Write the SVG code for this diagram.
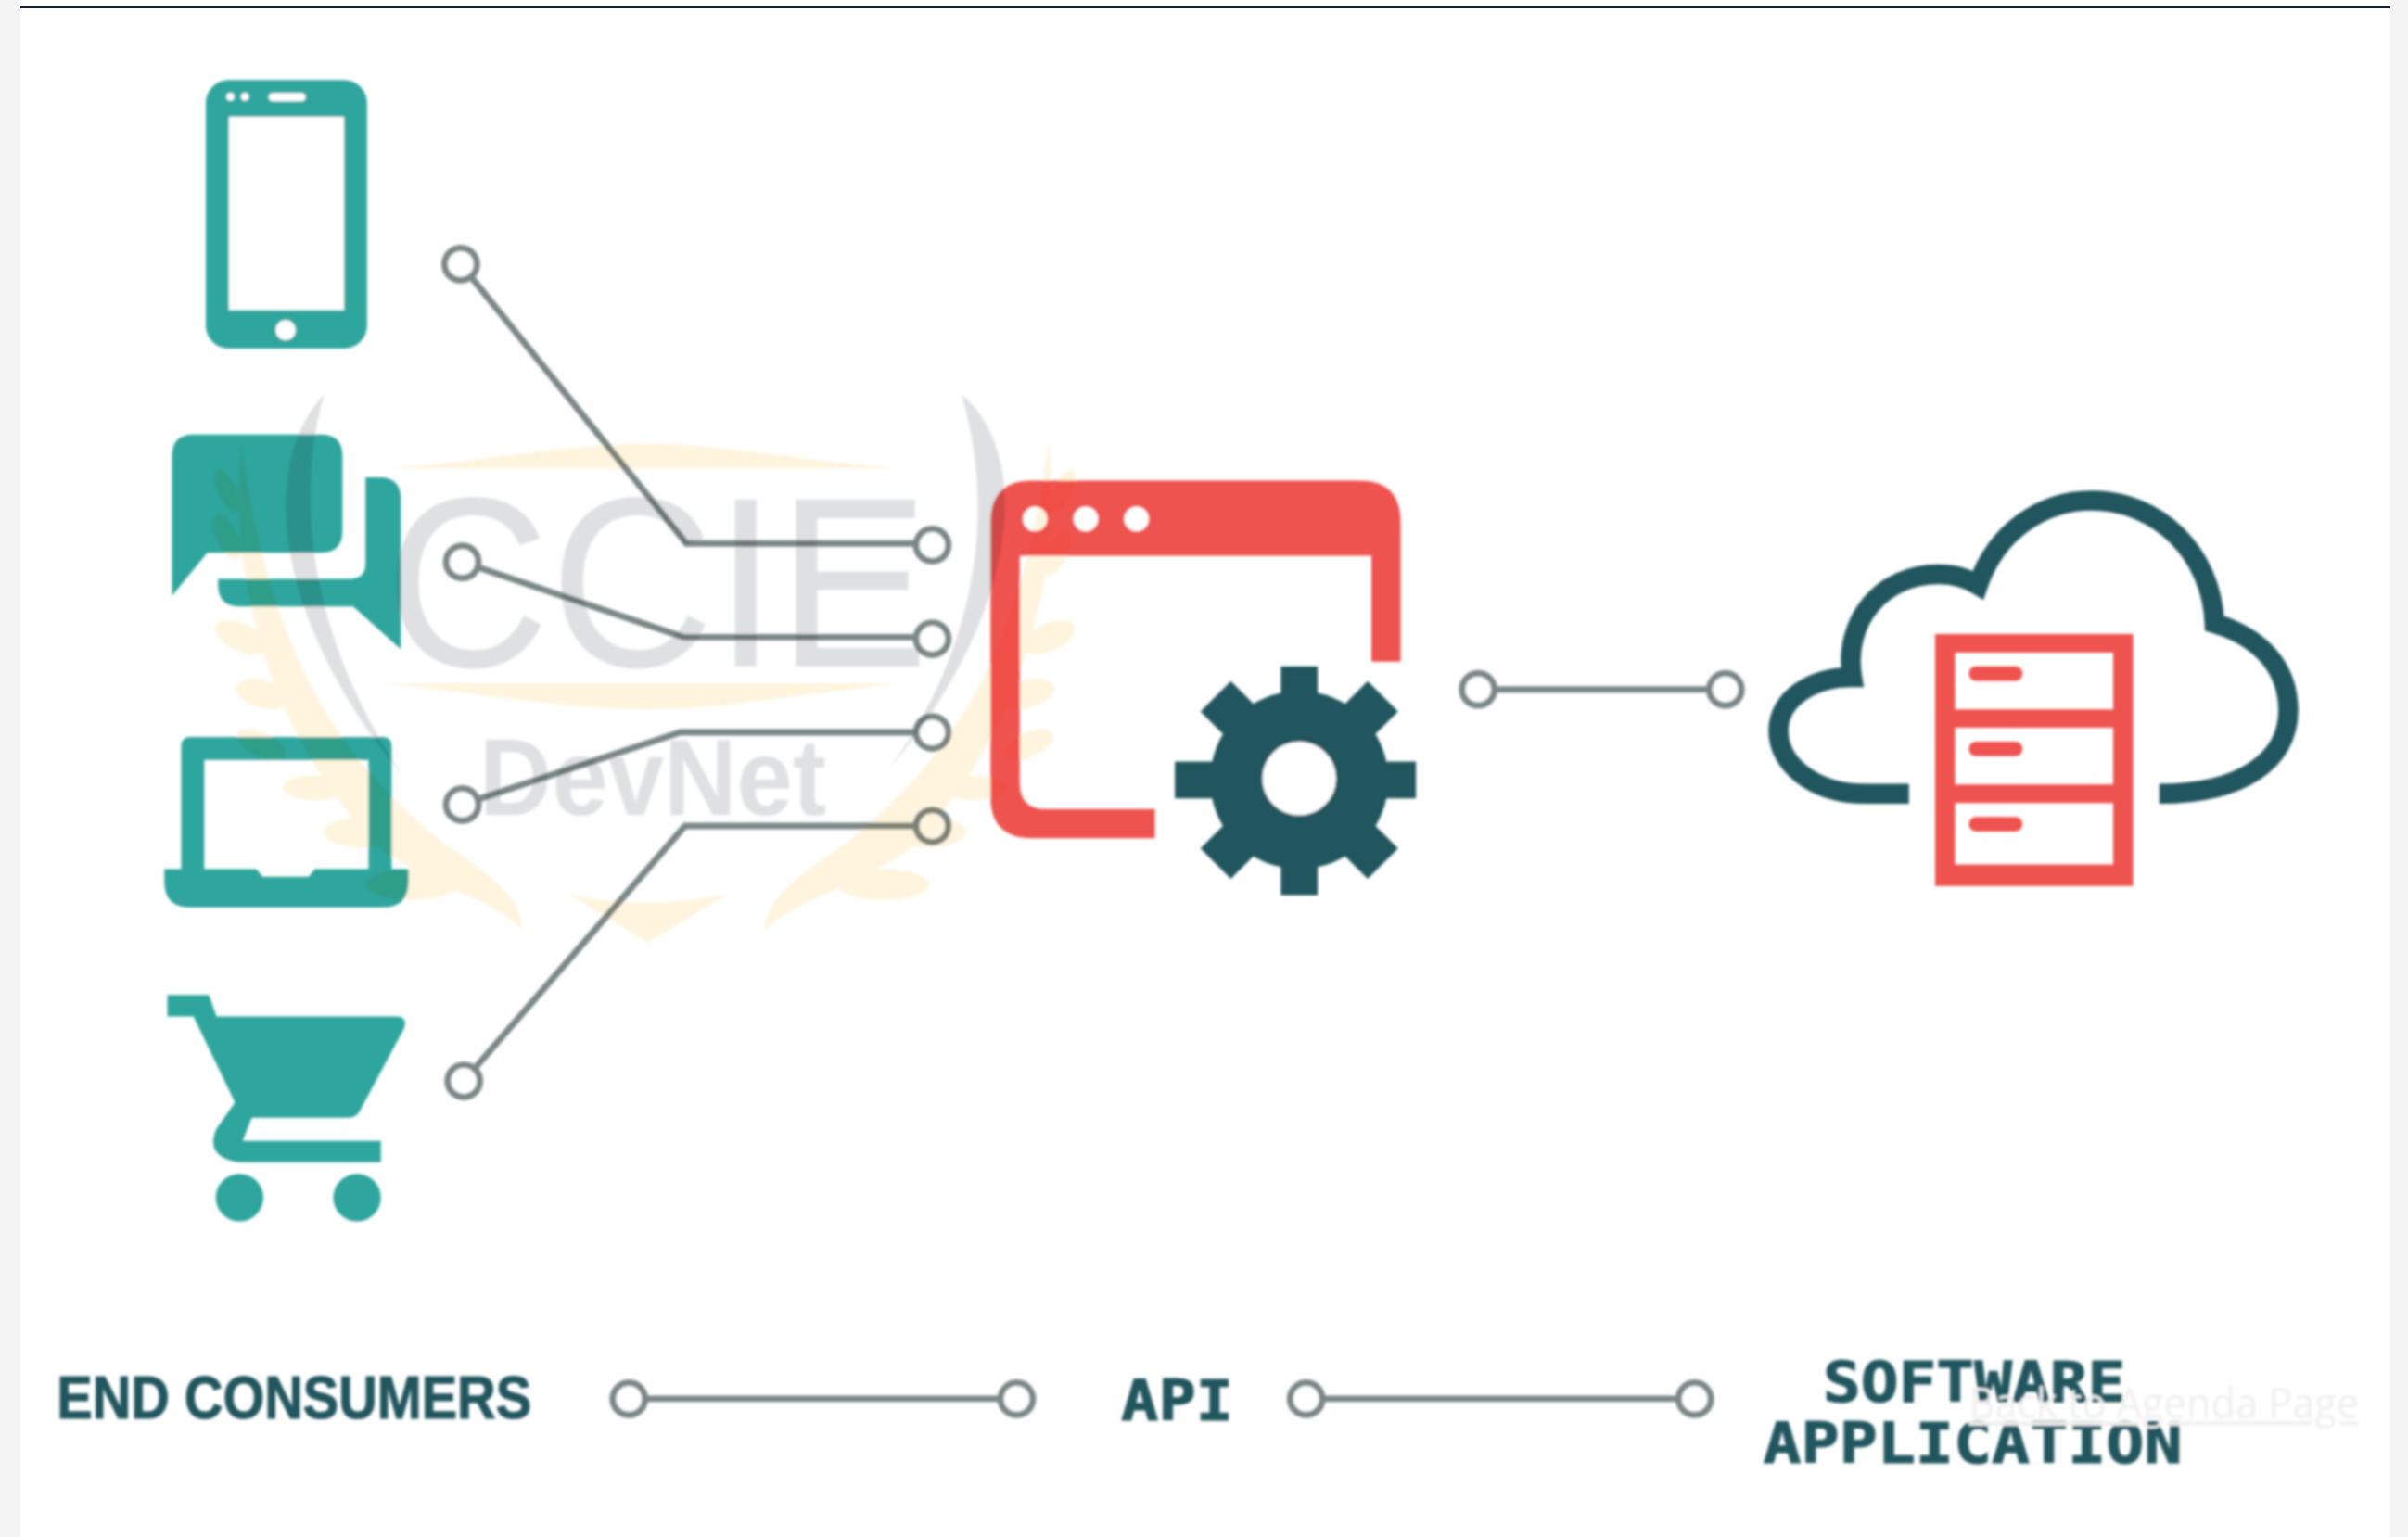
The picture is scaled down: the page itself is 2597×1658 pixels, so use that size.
<svg xmlns="http://www.w3.org/2000/svg" width="2597" height="1658" viewBox="0 0 2597 1658">
<defs>
<filter id="soft" x="-5%" y="-5%" width="110%" height="110%"><feGaussianBlur stdDeviation="1.1"/></filter>
</defs>
<style>
.teal{fill:#2ea59d}
.red{fill:#ef5350}
.dark{fill:#23565f}
.hole{fill:#fff}
.wire{fill:none;stroke:#7a8786;stroke-width:4.2}
.ring{fill:#fff;stroke:#7a8786;stroke-width:4.2}
.label{font-family:"DejaVu Sans Mono","Liberation Mono",monospace;font-weight:700;font-size:37px;fill:#23565f;stroke:#23565f;stroke-width:.7}
.wm{mix-blend-mode:multiply}
.gold{fill:#fff4de}
.gray{fill:#dfe0e2}
</style>
<rect width="2597" height="1658" fill="#f4f4f4"/>
<rect x="22" y="0" width="2556" height="1658" fill="#fff"/>
<rect x="22" y="6" width="2556" height="3" fill="#1a2030"/>
<g transform="scale(1.6563)" filter="url(#soft)">
<g id="phone">
<rect class="teal" x="134" y="52" width="105" height="175" rx="15"/>
<rect class="hole" x="149" y="76" width="75" height="126"/>
<circle class="hole" cx="150" cy="63" r="2.6"/><circle class="hole" cx="159.500" cy="63" r="2.600"/>
<rect class="hole" x="175" y="60.500" width="24" height="5.500" rx="2.700"/>
<circle class="hole" cx="186" cy="215" r="6.500"/>
</g>
<g id="chat">
<path class="teal" d="M126 283H209Q223 283 223 297V346Q223 360 209 360H135L112 388V297Q112 283 126 283Z"/>
<path class="teal" d="M238 311H247Q261 311 261 325V423L230 395H156Q142 395 142 381V377H228Q238 377 238 367Z"/>
</g>
<g id="laptop">
<path class="teal" d="M124 480H249Q255 480 255 486V566H266V574Q266 591 249 591H124Q107 591 107 574V566H118V486Q118 480 124 480ZM133 495V566H167L171 571H201L205 566H240V495Z" fill-rule="evenodd"/>
</g>
<g id="cart">
<path class="teal" d="M109 648H136L141 662H258Q266 662 263 670L234 724Q232 728 226 728H164L158 743H248V757H155Q133 753 141 735L153 718L126 662H109Z"/>
<circle class="teal" cx="156" cy="780" r="15.500"/><circle class="teal" cx="232.500" cy="780" r="15.500"/>
</g>
<g id="connectors">
<path class="wire" d="M300 172L447 354H607"/>
<path class="wire" d="M301 366L445 415H607"/>
<path class="wire" d="M301 524L443 477H607"/>
<path class="wire" d="M302 704L446 538H607"/>
<path class="wire" d="M962 449H1123"/>
<path class="wire" d="M409 911H662"/>
<path class="wire" d="M850 911H1103"/>
<circle class="ring" cx="300" cy="172" r="10.500"/><circle class="ring" cx="301" cy="366" r="10.500"/>
<circle class="ring" cx="301" cy="524" r="10.500"/><circle class="ring" cx="302" cy="704" r="10.500"/>
<circle class="ring" cx="607" cy="355" r="10.500"/><circle class="ring" cx="607" cy="416" r="10.500"/>
<circle class="ring" cx="607" cy="477" r="10.500"/><circle class="ring" cx="607" cy="538" r="10.500"/>
<circle class="ring" cx="962.500" cy="449" r="10.500"/><circle class="ring" cx="1123.500" cy="449" r="10.500"/>
<circle class="ring" cx="409.500" cy="911" r="10.500"/><circle class="ring" cx="662" cy="911" r="10.500"/>
<circle class="ring" cx="850.500" cy="911" r="10.500"/><circle class="ring" cx="1103.500" cy="911" r="10.500"/>
</g>
<g id="api-window">
<path class="red" d="M672 313H885Q912 313 912 340V431H893V362H664V510Q664 527 681 527H752V546H672Q645 546 645 519V340Q645 313 672 313Z"/>
<circle class="hole" cx="674" cy="338" r="8"/><circle class="hole" cx="707" cy="338" r="8"/><circle class="hole" cx="740" cy="338" r="8"/>
</g>
<g id="gear">
<circle class="dark" cx="846" cy="508" r="58"/>
<rect class="dark" x="834" y="434" width="24" height="149"/>
<rect class="dark" x="765" y="496" width="157" height="24"/>
<rect class="dark" x="832" y="431" width="28" height="154" transform="rotate(45 846 508)"/>
<rect class="dark" x="832" y="431" width="28" height="154" transform="rotate(-45 846 508)"/>
<circle class="hole" cx="846" cy="507" r="24"/>
</g>
<g id="cloud">
<path d="M1243 517H1215C1180 517 1158 497 1158 476C1158 455 1180 441 1206 441C1200 405 1225 374 1262 374C1272 374 1280 376 1288 381C1300 346 1330 326 1362 326C1405 326 1440 360 1442 406C1472 415 1490 435 1490 463C1490 495 1460 517 1406 517" fill="none" stroke="#23565f" stroke-width="13"/>
</g>
<g id="server">
<path class="red" fill-rule="evenodd" d="M1260 413H1389V577H1260ZM1273 425V462H1376V425ZM1273 474V511H1376V474ZM1273 523V563H1376V523Z"/>
<rect class="red" x="1282" y="434" width="35" height="9.500" rx="4.700"/>
<rect class="red" x="1282" y="483" width="35" height="9.500" rx="4.700"/>
<rect class="red" x="1282" y="532" width="35" height="9.500" rx="4.700"/>
</g>
<text class="label" x="37" y="924" textLength="309" lengthAdjust="spacingAndGlyphs" style="font-family:'Liberation Sans',Arial,sans-serif;font-size:39px">END CONSUMERS</text>
<text class="label" x="730" y="925" textLength="73" lengthAdjust="spacingAndGlyphs">API</text>
<text class="label" x="1187" y="913" textLength="197" lengthAdjust="spacingAndGlyphs">SOFTWARE</text>
<text class="label" x="1148" y="953" textLength="273" lengthAdjust="spacingAndGlyphs">APPLICATION</text>
<g id="watermark" class="wm">
<g class="gold">
<path d="M254 305C310 301 370 289 420 289C470 289 530 301 585 305Z"/>
<path d="M250 445H587C530 451 470 462 420 462C370 462 310 451 250 445Z"/>
<path d="M370 582C400 590 440 590 474 582L422 614Z"/>
<path d="M157 288C150 360 165 470 250 555C290 580 330 590 340 607C340 585 320 570 290 550C215 490 175 420 157 288Z"/>
<path d="M683 288C690 360 675 470 590 555C550 580 510 590 498 607C498 585 520 570 550 550C625 490 665 420 683 288Z"/>
<ellipse cx="148" cy="320" rx="6" ry="15" transform="rotate(-25 148 320)"/>
<ellipse cx="148" cy="350" rx="7" ry="16" transform="rotate(-25 148 350)"/>
<ellipse cx="157" cy="415" rx="18" ry="9" transform="rotate(25 157 415)"/>
<ellipse cx="171" cy="452" rx="18" ry="9" transform="rotate(15 171 452)"/>
<ellipse cx="170" cy="485" rx="17" ry="8" transform="rotate(25 170 485)"/>
<ellipse cx="205" cy="513" rx="21" ry="8"/>
<ellipse cx="236" cy="542" rx="25" ry="10"/>
<ellipse cx="268" cy="576" rx="30" ry="10"/>
<ellipse cx="692" cy="320" rx="6" ry="15" transform="rotate(25 692 320)"/>
<ellipse cx="688" cy="360" rx="7" ry="16" transform="rotate(25 688 360)"/>
<ellipse cx="683" cy="415" rx="18" ry="9" transform="rotate(-25 683 415)"/>
<ellipse cx="669" cy="452" rx="18" ry="9" transform="rotate(-15 669 452)"/>
<ellipse cx="670" cy="485" rx="17" ry="8" transform="rotate(-25 670 485)"/>
<ellipse cx="635" cy="513" rx="21" ry="8"/>
<ellipse cx="604" cy="542" rx="25" ry="10"/>
<ellipse cx="575" cy="576" rx="30" ry="10"/>
</g>
<g class="gray">
<path d="M211 257C170 300 175 400 262 505C205 420 190 330 211 257Z"/>
<path d="M626 257C668 290 672 390 578 502C638 420 648 330 626 257Z"/>
<text x="251" y="434" font-family="'Liberation Sans',Arial,sans-serif" font-size="158" textLength="354" lengthAdjust="spacingAndGlyphs">CCIE</text>
<text x="312" y="531" font-family="'Liberation Sans',Arial,sans-serif" font-weight="700" font-size="70" textLength="226" lengthAdjust="spacingAndGlyphs">DevNet</text>
</g>
</g>
<text x="1282" y="924" font-family="'Open Sans','Noto Sans',sans-serif" font-size="27" fill="#f0f0f0" text-decoration="underline" textLength="254" lengthAdjust="spacingAndGlyphs">Back to Agenda Page</text>
</g>
</svg>
